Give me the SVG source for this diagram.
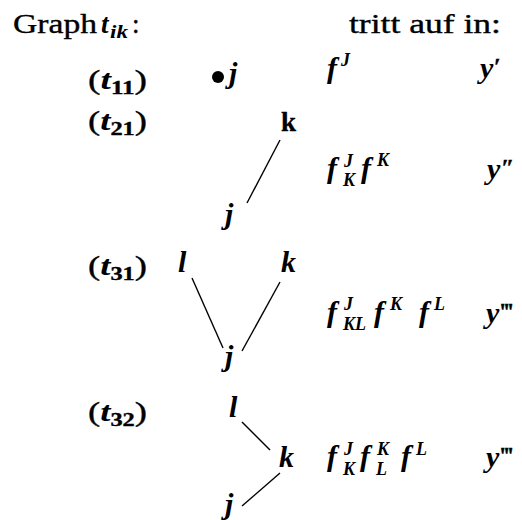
<svg xmlns="http://www.w3.org/2000/svg" width="522" height="520" viewBox="0 0 522 520">
<style>
text{font-size:27px;fill:#000;stroke:#000;stroke-width:0.35}
.it{font-style:italic;font-weight:bold;stroke-width:0}
.m{font-size:30px}
.s{font-size:18px}
.p{font-size:24px;font-weight:bold}
.b{font-weight:bold}
.e{stroke:#000;stroke-width:1.4;fill:none}
</style>
<rect width="522" height="520" fill="#fff"/>
<g font-family="'Liberation Serif', 'DejaVu Serif', serif">
<g id="header">
<text x="13" y="33" textLength="84" lengthAdjust="spacingAndGlyphs">Graph</text>
<text x="101" y="33" class="it">t</text>
<text x="110" y="38" class="it s" textLength="18" lengthAdjust="spacingAndGlyphs">ik</text>
<text x="132" y="33">:</text>
<text x="349" y="33" textLength="152" lengthAdjust="spacingAndGlyphs">tritt auf in:</text>
</g>
<g id="labels">
<text x="88" y="89" textLength="59" lengthAdjust="spacingAndGlyphs">(<tspan class="it">t</tspan><tspan class="s b" dy="5">11</tspan><tspan dy="-5">)</tspan></text>
<text x="88" y="130" textLength="59" lengthAdjust="spacingAndGlyphs">(<tspan class="it">t</tspan><tspan class="s b" dy="5">21</tspan><tspan dy="-5">)</tspan></text>
<text x="88" y="275" textLength="59" lengthAdjust="spacingAndGlyphs">(<tspan class="it">t</tspan><tspan class="s b" dy="5">31</tspan><tspan dy="-5">)</tspan></text>
<text x="88" y="421" textLength="59" lengthAdjust="spacingAndGlyphs">(<tspan class="it">t</tspan><tspan class="s b" dy="5">32</tspan><tspan dy="-5">)</tspan></text>
</g>
<g id="t11">
<circle cx="218" cy="77" r="6" fill="#000"/>
<text x="229" y="83" class="it m">j</text>
</g>
<g id="t21">
<text id="t21-k" x="281" y="131" class="b">k</text>
<text id="t21-j" x="225" y="224" class="it m">j</text>
</g>
<g id="t31">
<text id="t31-l" x="178" y="272" class="it m">l</text>
<text id="t31-k" x="281" y="272" class="it m">k</text>
<text id="t31-j" x="225" y="366" class="it m">j</text>
</g>
<g id="t32">
<text id="t32-l" x="229" y="417" class="it m">l</text>
<text id="t32-k" x="279" y="467" class="it m">k</text>
<text id="t32-j" x="225" y="514" class="it m">j</text>
</g>
<g id="formulas">
<g id="f1">
<text x="327" y="78" class="it m">f</text>
<text x="341" y="66" class="it s">J</text>
<text x="480" y="78" class="it m">y</text>
<text x="494" y="74" class="p">′</text>
</g>
<g id="f2">
<text x="327" y="178" class="it m">f</text>
<text x="344" y="167" class="it s">J</text>
<text x="343" y="186" class="it s">K</text>
<text x="361" y="178" class="it m">f</text>
<text x="377" y="166" class="it s">K</text>
<text x="487" y="179" class="it m">y</text>
<text x="501" y="175" class="p">″</text>
</g>
<g id="f3">
<text x="327" y="322" class="it m">f</text>
<text x="344" y="310" class="it s">J</text>
<text x="343" y="330" class="it s">KL</text>
<text x="374" y="322" class="it m">f</text>
<text x="390" y="310" class="it s">K</text>
<text x="419" y="322" class="it m">f</text>
<text x="434" y="310" class="it s">L</text>
<text x="486" y="323" class="it m">y</text>
<text x="500" y="319" class="p">‴</text>
</g>
<g id="f4">
<text x="327" y="466" class="it m">f</text>
<text x="344" y="455" class="it s">J</text>
<text x="343" y="475" class="it s">K</text>
<text x="360" y="466" class="it m">f</text>
<text x="377" y="455" class="it s">K</text>
<text x="376" y="475" class="it s">L</text>
<text x="401" y="466" class="it m">f</text>
<text x="416" y="455" class="it s">L</text>
<text x="486" y="467" class="it m">y</text>
<text x="500" y="463" class="p">‴</text>
</g>
</g>
</g>
<g id="connectors" class="e">
<line x1="280" y1="140" x2="247" y2="203"/>
<line x1="192" y1="278" x2="223" y2="348"/>
<line x1="280" y1="282" x2="242" y2="351"/>
<line x1="242" y1="422" x2="270" y2="450"/>
<line x1="280" y1="473" x2="242" y2="506"/>
</g>
</svg>
